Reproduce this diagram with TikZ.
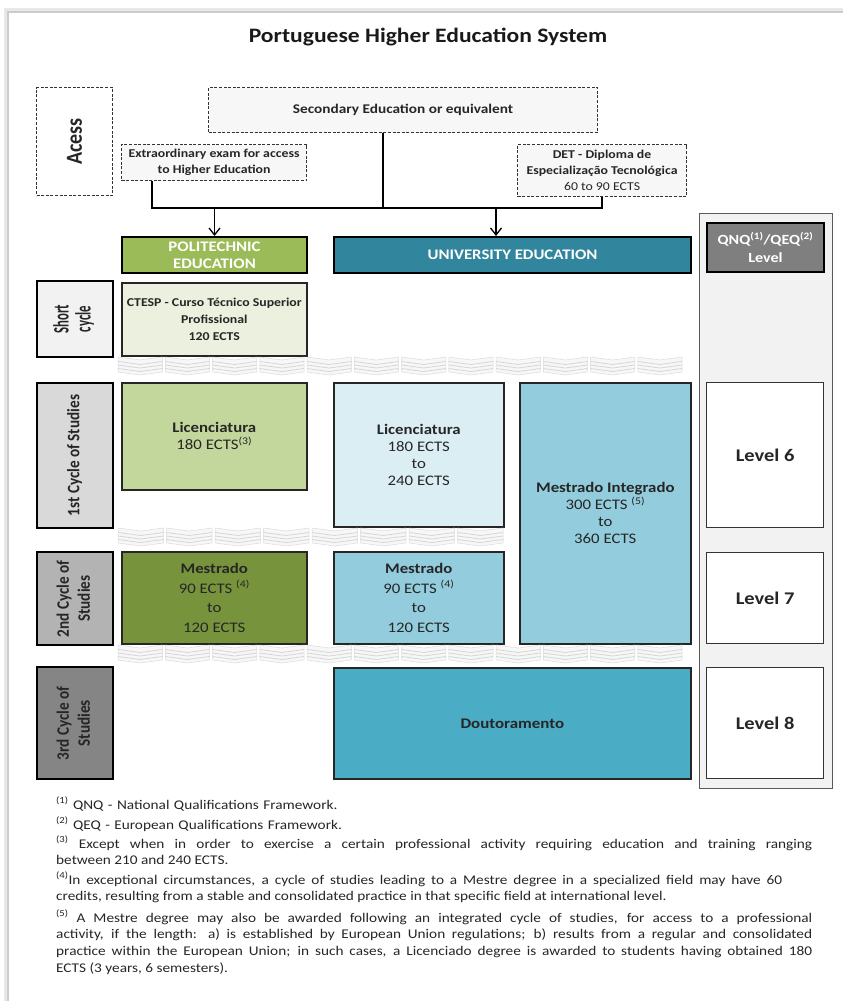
\documentclass[tikz,border=0pt]{standalone}
\usepackage{fontspec}
\setmainfont{Carlito}[FakeStretch=1.15]
\newfontfamily\rfont{Carlito}[FakeStretch=0.87]
\newfontfamily\sfont{Carlito}[FakeStretch=0.58]
\usetikzlibrary{arrows.meta}
\tolerance=9999
\hbadness=10000
\hfuzz=20pt
\definecolor{polyhead}{HTML}{9BBB59}
\definecolor{univhead}{HTML}{31859C}
\definecolor{qnqgray}{HTML}{7F7F7F}
\definecolor{colfill}{HTML}{F2F2F2}
\definecolor{ctespfill}{HTML}{EBF1DE}
\definecolor{licpfill}{HTML}{C3D69B}
\definecolor{mespfill}{HTML}{77933C}
\definecolor{licufill}{HTML}{DBEEF4}
\definecolor{mesufill}{HTML}{93CDDD}
\definecolor{doutfill}{HTML}{4BACC6}
\definecolor{lblA}{HTML}{F2F2F2}
\definecolor{lblB}{HTML}{D9D9D9}
\definecolor{lblC}{HTML}{B3B3B3}
\definecolor{lblD}{HTML}{858585}
\definecolor{txt}{HTML}{262626}
\newcommand{\mybox}[7]{\node[#2, anchor=north west, minimum width={#5pt-#3pt}, minimum height={#6pt-#4pt}] (#1) at (#3,#4) {#7};}
\newcommand{\rlab}[1]{\rotatebox{90}{\begin{tabular}{@{}c@{}}#1\end{tabular}}}
\newcommand{\wband}[4]{%
  \pgfmathsetmacro\wpitch{(#2-#1)/#3}%
  \foreach \k in {1,...,#3}{%
    \pgfmathsetmacro\xa{#1+(\k-1)*\wpitch}%
    \pgfmathsetmacro\xb{\xa+\wpitch-3}%
    \pgfmathsetmacro\xm{(\xa+\xb)/2}%
    \pgfmathsetmacro\ya{#4}%
    \pgfmathsetmacro\yb{#4+3}%
    \pgfmathsetmacro\yc{#4+15}%
    \pgfmathsetmacro\yd{#4+18}%
    \filldraw[fill=gray!6, draw=gray!28, line width=0.5pt] (\xa,\ya) -- (\xm,\yb) -- (\xb,\ya) -- (\xb,\yc) -- (\xm,\yd) -- (\xa,\yc) -- cycle;
    \foreach \j in {4.5,8,11.5}{%
      \pgfmathsetmacro\yy{#4+\j}%
      \pgfmathsetmacro\yz{#4+\j+3}%
      \draw[gray!32, line width=0.8pt] (\xa,\yy) -- (\xm,\yz) -- (\xb,\yy);
    }%
  }%
}
\tikzset{
  dashbox/.style={draw=black!80, line width=1.1pt, dash pattern=on 3pt off 1.6pt, fill=gray!6, align=center, inner sep=1pt, text=txt, font=\bfseries\fontsize{12}{16}\selectfont},
  headbox/.style={draw=black, line width=2pt, text=white, align=center, inner sep=1pt, font=\bfseries\fontsize{14.6}{17}\selectfont},
  cellbox/.style={draw=black!85, line width=1.6pt, align=center, inner sep=1pt, text=txt, font=\fontsize{14.6}{17}\selectfont},
  rowlabel/.style={draw=black, line width=2.2pt, align=center, inner sep=0pt, text=txt, font=\rfont\bfseries\fontsize{17.5}{21}\selectfont},
  levelbox/.style={draw=black!80, line width=1.3pt, fill=white, inner sep=0pt, text=txt, font=\bfseries\fontsize{17.8}{20}\selectfont},
  conn/.style={draw=black, line width=1.8pt},
  arr/.style={conn, -{Straight Barb[length=7pt,width=11pt,line width=1.3pt]}},
  fnote/.style={inner sep=0pt, text width=756pt, text=txt, font=\fontsize{13.3}{16.8}\selectfont},
}
\begin{document}
\begin{tikzpicture}[x=1pt,y=-1pt]
\useasboundingbox (0,0) rectangle (843,1001);
% page frame
\draw[gray!18, line width=3pt] (5,1001) -- (5,9) -- (843,9);
\draw[gray!40, line width=1.2pt] (8,1001) -- (8,12) -- (843,12);
% title
\node[anchor=base, text=black!90, font=\bfseries\fontsize{20.5}{24}\selectfont] (title) at (428,42) {Portuguese Higher Education System};
% access area
\mybox{acess}{dashbox, font=\rfont\bfseries\fontsize{23}{26}\selectfont, fill=white}{36}{87}{112}{195}{\rotatebox{90}{Acess}}
\mybox{secondary}{dashbox, font=\bfseries\fontsize{13.3}{16}\selectfont}{208}{87}{597}{132}{Secondary Education or equivalent}
\mybox{extra}{dashbox}{121}{144}{306}{180}{Extraordinary exam for access\\to Higher Education}
\mybox{det}{dashbox}{517}{144}{686}{196}{DET - Diploma de\\Especialização Tecnológica\\{\mdseries 60 to 90 ECTS}}
% connectors
\coordinate (jL) at (152,208);
\coordinate (jS) at (383,208);
\coordinate (jR) at (602,208);
\coordinate (jU) at (496,208);
% right column
\mybox{lvlcol}{draw=black!65, line width=1.3pt, fill=colfill}{699}{213}{832}{788}{}
\mybox{qnq}{headbox, fill=qnqgray, font=\bfseries\fontsize{14}{18}\selectfont}{706}{222}{823}{271}{QNQ\textsuperscript{(1)}/QEQ\textsuperscript{(2)}\\Level}
% headers
\mybox{poly}{headbox, fill=polyhead}{121}{236}{306}{272}{POLITECHNIC\\EDUCATION}
\mybox{univ}{headbox, fill=univhead}{333}{236}{690}{272}{UNIVERSITY EDUCATION}
\draw[conn] (extra.south -| jL) -- (jL) -- (jR) -- (det.south -| jR);
\draw[conn] (secondary.south -| jS) -- (jS);
\draw[arr] (poly.north |- jL) -- (poly.north);
\draw[arr] (jU) -- (jU |- univ.north);
% row labels
\mybox{short}{rowlabel, fill=lblA, font=\sfont\bfseries\fontsize{22}{22}\selectfont}{36}{280}{112}{356}{\rlab{Short\\cycle}}
\mybox{cyc1}{rowlabel, fill=lblB}{36}{382}{112}{527}{\rlab{1st Cycle of Studies}}
\mybox{cyc2}{rowlabel, fill=lblC}{36}{551}{112}{644}{\rlab{2nd Cycle of\\Studies}}
\mybox{cyc3}{rowlabel, fill=lblD}{36}{666}{112}{778}{\rlab{3rd Cycle of\\Studies}}
% cells
\mybox{ctesp}{cellbox, fill=ctespfill, font=\bfseries\fontsize{12}{17}\selectfont}{121}{282}{306}{355}{CTESP - Curso Técnico Superior\\Profissional\\120 ECTS}
\mybox{licp}{cellbox, fill=licpfill}{121}{382}{306}{489}{\textbf{Licenciatura}\\180 ECTS\textsuperscript{(3)}}
\mybox{licu}{cellbox, fill=licufill}{333}{382}{503}{526}{\textbf{Licenciatura}\\180 ECTS\\to\\240 ECTS}
\mybox{mi}{cellbox, fill=mesufill}{519}{382}{690}{643}{\textbf{Mestrado Integrado}\\300 ECTS \textsuperscript{(5)}\\to\\360 ECTS}
\mybox{mesp}{cellbox, fill=mespfill, font=\fontsize{14.6}{19.5}\selectfont}{121}{551}{306}{643}{\textbf{Mestrado}\\90 ECTS \textsuperscript{(4)}\\to\\120 ECTS}
\mybox{mesu}{cellbox, fill=mesufill, font=\fontsize{14.6}{19.5}\selectfont}{333}{551}{503}{643}{\textbf{Mestrado}\\90 ECTS \textsuperscript{(4)}\\to\\120 ECTS}
\mybox{dout}{cellbox, fill=doutfill, font=\bfseries\fontsize{14.7}{17}\selectfont}{333}{667}{690}{778}{Doutoramento}
% levels
\mybox{lv6}{levelbox}{706}{382}{823}{527}{Level 6}
\mybox{lv7}{levelbox}{706}{552}{823}{643}{Level 7}
\mybox{lv8}{levelbox}{706}{667}{823}{778}{Level 8}
% wavy separators
\wband{118}{685}{12}{357}
\wband{118}{506}{8}{528}
\wband{118}{685}{12}{645}
% footnotes
\node[fnote, anchor=base west, align=left] (fn1) at (56,809) {\textsuperscript{(1)} QNQ - National Qualifications Framework.};
\node[fnote, anchor=base west, align=left] (fn2) at (56,829) {\textsuperscript{(2)} QEQ - European Qualifications Framework.};
\node[fnote, anchor=base west, align=justify] (fn3) at (56,848) {\textsuperscript{(3)} Except when in order to exercise a certain professional activity requiring education and training ranging\linebreak between 210 and 240 ECTS.};
\node[fnote, text width=726pt, anchor=base west, align=justify] (fn4) at (56,884) {\textsuperscript{(4)}In exceptional circumstances, a cycle of studies leading to a Mestre degree in a specialized field may have 60\linebreak credits, resulting from a stable and consolidated practice in that specific field at international level.};
\node[fnote, anchor=base west, align=justify] (fn5) at (56,922) {\textsuperscript{(5)} A Mestre degree may also be awarded following an integrated cycle of studies, for access to a professional\linebreak activity, if the length: a) is established by European Union regulations; b) results from a regular and consolidated\linebreak practice within the European Union; in such cases, a Licenciado degree is awarded to students having obtained 180\linebreak ECTS (3 years, 6 semesters).};
\end{tikzpicture}
\end{document}
